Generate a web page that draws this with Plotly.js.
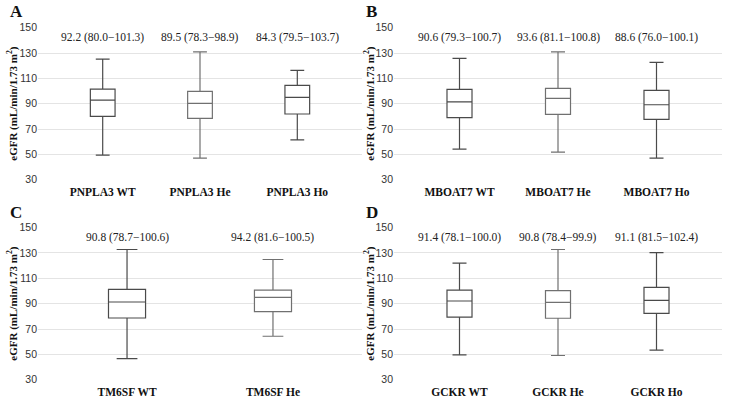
<!DOCTYPE html>
<html>
<head>
<meta charset="utf-8">
<script src="https://cdn.plot.ly/plotly-3.0.1.min.js"></script>
<style>html,body{margin:0;padding:0;background:#fff;}#chart{width:736px;height:403px;}</style>
</head>
<body>
<div id="chart"></div>
<script>
// ---- Data ----
const catsA = ["PNPLA3 WT", "PNPLA3 He", "PNPLA3 Ho"];
const lowA  = [49.4, 47.1, 61.5];
const q1A   = [80.1, 78.5, 81.9];
const medA  = [92.9, 90.3, 95.1];
const q3A   = [101.6, 99.8, 104.5];
const highA = [125.2, 131.0, 116.3];
const annA  = ["92.2 (80.0\u2212101.3)", "89.5 (78.3\u221298.9)", "84.3 (79.5\u2212103.7)"];

const catsB = ["MBOAT7 WT", "MBOAT7 He", "MBOAT7 Ho"];
const lowB  = [54.2, 51.8, 47.1];
const q1B   = [79.0, 81.6, 77.7];
const medB  = [91.5, 94.2, 89.2];
const q3B   = [101.4, 102.1, 100.5];
const highB = [125.8, 131.0, 122.6];
const annB  = ["90.6 (79.3\u2212100.7)", "93.6 (81.1\u2212100.8)", "88.6 (76.0\u2212100.1)"];

const catsC = ["TM6SF WT", "TM6SF He"];
const lowC  = [46.7, 64.3];
const q1C   = [78.7, 83.7];
const medC  = [91.3, 95.0];
const q3C   = [101.3, 100.7];
const highC = [132.7, 124.8];
const annC  = ["90.8 (78.7\u2212100.6)", "94.2 (81.6\u2212100.5)"];

const catsD = ["GCKR WT", "GCKR He", "GCKR Ho"];
const lowD  = [49.6, 49.1, 53.3];
const q1D   = [79.3, 78.5, 82.4];
const medD  = [92.1, 91.0, 92.6];
const q3D   = [100.7, 100.2, 102.8];
const highD = [121.9, 132.7, 130.3];
const annD  = ["91.4 (78.1\u2212100.0)", "90.8 (78.4\u221299.9)", "91.1 (81.5\u2212102.4)"];

const panelLetters = ["A", "B", "C", "D"];
const yTitle = "eGFR (mL/min/1.73 m<sup>2</sup>)";

// ---- Layout helpers ----
const W = 736, H = 403;
const fx = p => p / W;
const fy = p => 1 - p / H;

const panels = [
  {cats: catsA, low: lowA, q1: q1A, med: medA, q3: q3A, high: highA, ann: annA, xs: "x",  ys: "y",  xd: [38, 362],  yd: [180, 27.5], letter: [8, 12],   title: 13},
  {cats: catsB, low: lowB, q1: q1B, med: medB, q3: q3B, high: highB, ann: annB, xs: "x2", ys: "y2", xd: [394, 722], yd: [180, 27.5], letter: [364, 12], title: 370},
  {cats: catsC, low: lowC, q1: q1C, med: medC, q3: q3C, high: highC, ann: annC, xs: "x3", ys: "y3", xd: [38, 362],  yd: [380, 227.3], letter: [8, 212], title: 13},
  {cats: catsD, low: lowD, q1: q1D, med: medD, q3: q3D, high: highD, ann: annD, xs: "x4", ys: "y4", xd: [394, 722], yd: [380, 227.3], letter: [364, 212], title: 370}
];

const traces = [];
const annotations = [];
const layout = {
  width: W, height: H,
  margin: {l: 0, r: 0, t: 0, b: 0},
  paper_bgcolor: "#ffffff", plot_bgcolor: "#ffffff",
  showlegend: false,
  font: {family: "Liberation Serif, serif", color: "#222"}
};

panels.forEach((p, i) => {
  const n = i === 0 ? "" : String(i + 1);
  p.cats.forEach((c, j) => {
    const col = c.endsWith("He") ? "#707070" : "#4a4a4a";
    traces.push({
      type: "box",
      x: [c], q1: [p.q1[j]], median: [p.med[j]], q3: [p.q3[j]],
      lowerfence: [p.low[j]], upperfence: [p.high[j]],
      xaxis: p.xs, yaxis: p.ys,
      width: 0.254, whiskerwidth: 0.56,
      fillcolor: "#ffffff",
      line: {color: col, width: 1.2},
      boxpoints: false, hoverinfo: "skip"
    });
    annotations.push({
      xref: p.xs, yref: p.ys, x: c, y: 142.5,
      text: p.ann[j], showarrow: false,
      font: {family: "Liberation Serif, serif", size: 11.5, color: "#222"}
    });
  });
  const nc = p.cats.length;
  const rng = nc === 3 ? [-0.665, 2.665] : [-0.61, 1.61];
  layout["xaxis" + n] = {
    domain: [fx(p.xd[0]), fx(p.xd[1])],
    anchor: p.ys, type: "category", categoryorder: "array", categoryarray: p.cats,
    range: rng, showgrid: false, zeroline: false, showline: false, ticks: "",
    ticklabelstandoff: 3,
    tickfont: {family: "Liberation Serif, serif", size: 11.5, color: "#111", weight: "bold"}
  };
  layout["yaxis" + n] = {
    domain: [fy(p.yd[0]), fy(p.yd[1])],
    anchor: p.xs, range: [29.8, 150.2], tick0: 30, dtick: 20,
    showgrid: true, gridcolor: "#e4e4e4", gridwidth: 1,
    zeroline: false, showline: false, ticks: "",
    tickfont: {family: "Liberation Sans, Arial, sans-serif", size: 10.5, color: "#333"}
  };
  annotations.push({
    xref: "paper", yref: "paper", x: fx(p.title), y: fy((p.yd[0] + p.yd[1]) / 2),
    text: "<b>" + yTitle + "</b>", textangle: -90, showarrow: false,
    xanchor: "center", yanchor: "middle",
    font: {family: "Liberation Serif, serif", size: 11, color: "#111"}
  });
  annotations.push({
    xref: "paper", yref: "paper", x: fx(p.letter[0]), y: fy(p.letter[1]),
    text: "<b>" + panelLetters[i] + "</b>", showarrow: false,
    xanchor: "left", yanchor: "middle",
    font: {family: "Liberation Serif, serif", size: 17, color: "#111"}
  });
});
layout.annotations = annotations;

Plotly.newPlot("chart", traces, layout, {displayModeBar: false, staticPlot: true});
</script>
</body>
</html>
